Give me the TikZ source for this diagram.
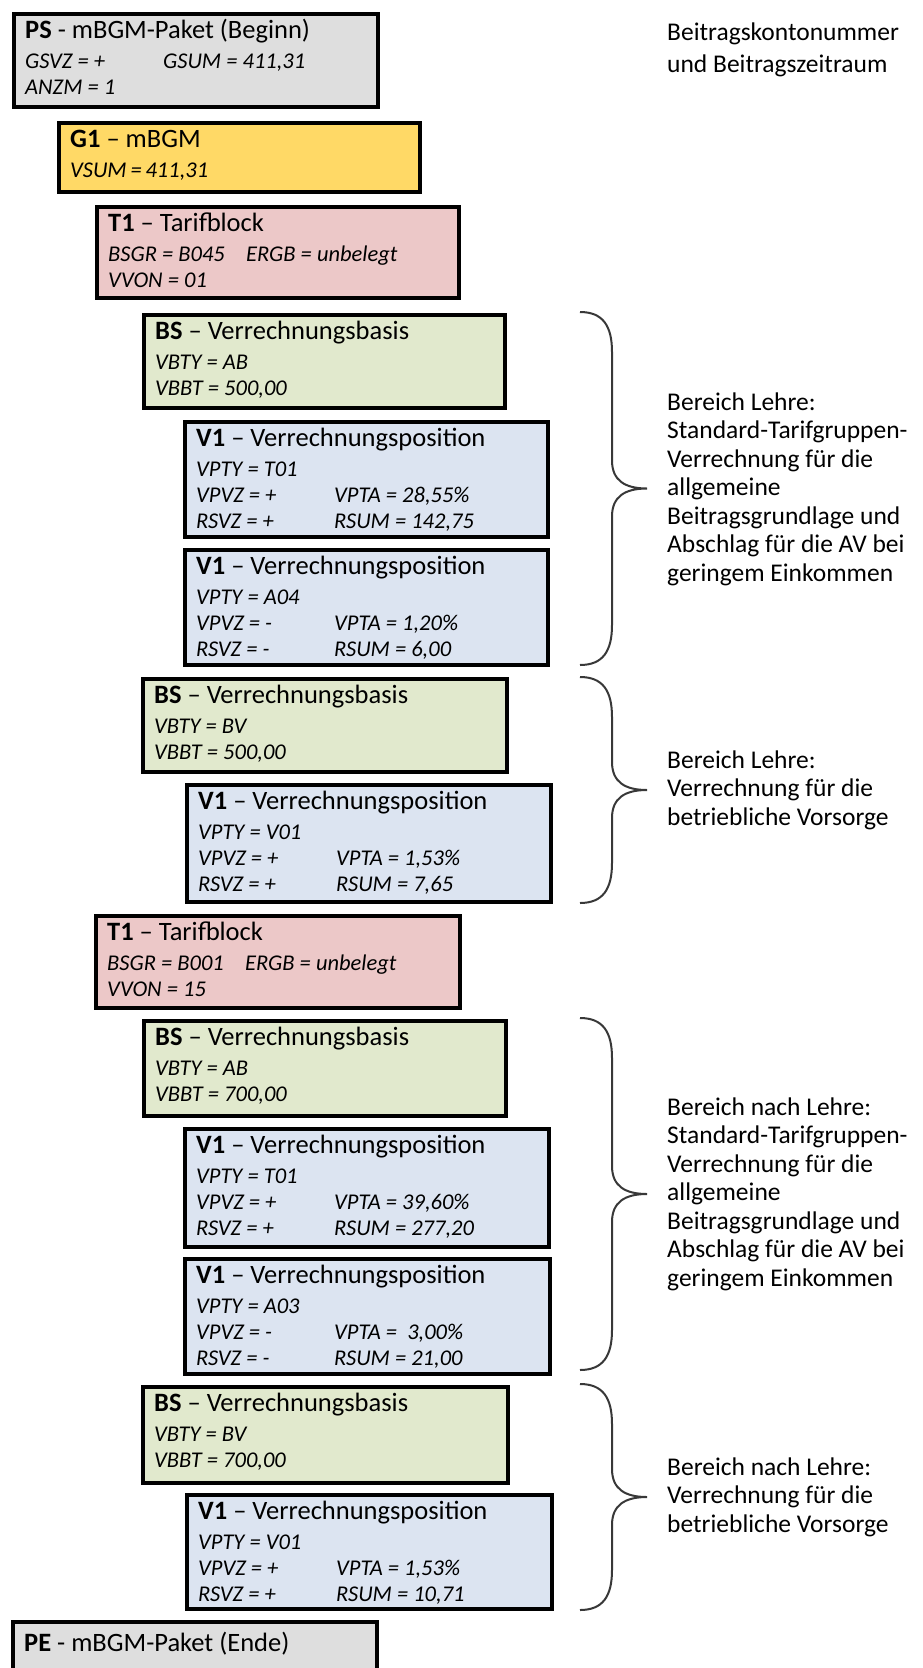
\documentclass[tikz,border=0pt]{standalone}
\usepackage{fontspec}
\setmainfont{Carlito}
\usepackage{array}
\definecolor{cgray}{HTML}{DEDEDE}
\definecolor{cyellow}{HTML}{FFD966}
\definecolor{cpink}{HTML}{ECC8C8}
\definecolor{cgreen}{HTML}{E1E9CD}
\definecolor{cblue}{HTML}{DCE4F1}
\newcommand\ttlfont{\fontsize{26.5}{31}\selectfont}
\newcommand\attfont{\fontsize{22.5}{26}\selectfont\itshape}
\newcommand\notefont{\fontsize{25.5}{28.5}\selectfont}
\newcommand\topnotefont{\fontsize{25.5}{32}\selectfont}
\tikzset{
  recbox/.style={draw=black, line width=3.5pt, inner sep=0pt, anchor=north west},
  ttl/.style={anchor=base west, inner sep=0pt, font=\ttlfont},
  att/.style={anchor=base west, inner sep=0pt, font=\attfont},
  note/.style={anchor=west, inner sep=0pt, align=left, font=\notefont},
  brc/.style={draw=black!78, line width=2pt},
}
\newcommand\mkbox[9]{%
  \node[recbox, fill=#6, minimum width={(#4-#2)*1pt}, minimum height={(#5-#3)*1pt}] (#1) at (#2,#3) {};
  \node[ttl] (#1-t) at ({#2+13},{#3+26}) {\textbf{#7}#8};
  \node[att] (#1-a) at ({#2+13},{#3+56}) {\begin{tabular}[t]{@{}p{138pt}@{}l@{}}#9\end{tabular}};
}
\newcommand\mkbrace[2]{%
  \pgfmathsetmacro\bm{(#1+#2)/2}
  \draw[brc] (580,#1) .. controls (603,#1) and (612,{#1+14}) .. (612,{#1+40})
    -- (612,{\bm-28}) .. controls (612,{\bm-8}) and (625,\bm) .. (647,\bm)
    .. controls (625,\bm) and (612,{\bm+8}) .. (612,{\bm+28})
    -- (612,{#2-40}) .. controls (612,{#2-14}) and (603,#2) .. (580,#2);
}
\begin{document}
\begin{tikzpicture}[x=1pt,y=-1pt]
\useasboundingbox (0,0) rectangle (922,1668);
\clip (0,0) rectangle (922,1668);
\fill[white] (0,0) rectangle (922,1668);

\mkbox{ps}{12}{12}{376}{105}{cgray}{PS}{ - mBGM-Paket (Beginn)}{GSVZ = + & GSUM = 411,31\\ ANZM = 1 &}
\mkbox{g1}{57}{121}{418}{190}{cyellow}{G1}{ -- mBGM}{VSUM = 411,31 &}
\mkbox{t1a}{95}{205}{457}{296}{cpink}{T1}{ -- Tarifblock}{BSGR = B045 & ERGB = unbelegt\\ VVON = 01 &}
\mkbox{bs1}{142}{313}{503}{406}{cgreen}{BS}{ -- Verrechnungsbasis}{VBTY = AB &\\ VBBT = 500,00 &}
\mkbox{v1a}{183}{420}{546}{535}{cblue}{V1}{ -- Verrechnungsposition}{VPTY = T01 &\\ VPVZ = + & VPTA = 28,55\%\\ RSVZ = + & RSUM = 142,75}
\mkbox{v1b}{183}{548}{546}{663}{cblue}{V1}{ -- Verrechnungsposition}{VPTY = A04 &\\ VPVZ = - & VPTA = 1,20\%\\ RSVZ = - & RSUM = 6,00}
\mkbox{bs2}{141}{677}{505}{770}{cgreen}{BS}{ -- Verrechnungsbasis}{VBTY = BV &\\ VBBT = 500,00 &}
\mkbox{v1c}{185}{783}{549}{900}{cblue}{V1}{ -- Verrechnungsposition}{VPTY = V01 &\\ VPVZ = + & VPTA = 1,53\%\\ RSVZ = + & RSUM = 7,65}
\mkbox{t1b}{94}{914}{458}{1006}{cpink}{T1}{ -- Tarifblock}{BSGR = B001 & ERGB = unbelegt\\ VVON = 15 &}
\mkbox{bs3}{142}{1019}{504}{1114}{cgreen}{BS}{ -- Verrechnungsbasis}{VBTY = AB &\\ VBBT = 700,00 &}
\mkbox{v1d}{183}{1127}{547}{1245}{cblue}{V1}{ -- Verrechnungsposition}{VPTY = T01 &\\ VPVZ = + & VPTA = 39,60\%\\ RSVZ = + & RSUM = 277,20}
\mkbox{v1e}{183}{1257}{548}{1372}{cblue}{V1}{ -- Verrechnungsposition}{VPTY = A03 &\\ VPVZ = - & VPTA = \ 3,00\%\\ RSVZ = - & RSUM = 21,00}
\mkbox{bs4}{141}{1385}{506}{1481}{cgreen}{BS}{ -- Verrechnungsbasis}{VBTY = BV &\\ VBBT = 700,00 &}
\mkbox{v1f}{185}{1493}{550}{1607}{cblue}{V1}{ -- Verrechnungsposition}{VPTY = V01 &\\ VPVZ = + & VPTA = 1,53\%\\ RSVZ = + & RSUM = 10,71}
\node[recbox, fill=cgray, minimum width=364pt, minimum height=100pt] (pe) at (11,1620) {};
\node[ttl] (pe-t) at (24,1651) {\textbf{PE} - mBGM-Paket (Ende)};

\mkbrace{312}{665}
\mkbrace{677}{903}
\mkbrace{1018}{1370}
\mkbrace{1384}{1610}

\node[note, font=\topnotefont] (n0) at (667,50) {Beitragskontonummer\\und Beitragszeitraum};
\node[note] (n1) at (667,489) {Bereich Lehre:\\Standard-Tarifgruppen-\\Verrechnung für die\\allgemeine\\Beitragsgrundlage und\\Abschlag für die AV bei\\geringem Einkommen};
\node[note] (n2) at (667,790) {Bereich Lehre:\\Verrechnung für die\\betriebliche Vorsorge};
\node[note] (n3) at (667,1194) {Bereich nach Lehre:\\Standard-Tarifgruppen-\\Verrechnung für die\\allgemeine\\Beitragsgrundlage und\\Abschlag für die AV bei\\geringem Einkommen};
\node[note] (n4) at (667,1497) {Bereich nach Lehre:\\Verrechnung für die\\betriebliche Vorsorge};
\end{tikzpicture}
\end{document}
